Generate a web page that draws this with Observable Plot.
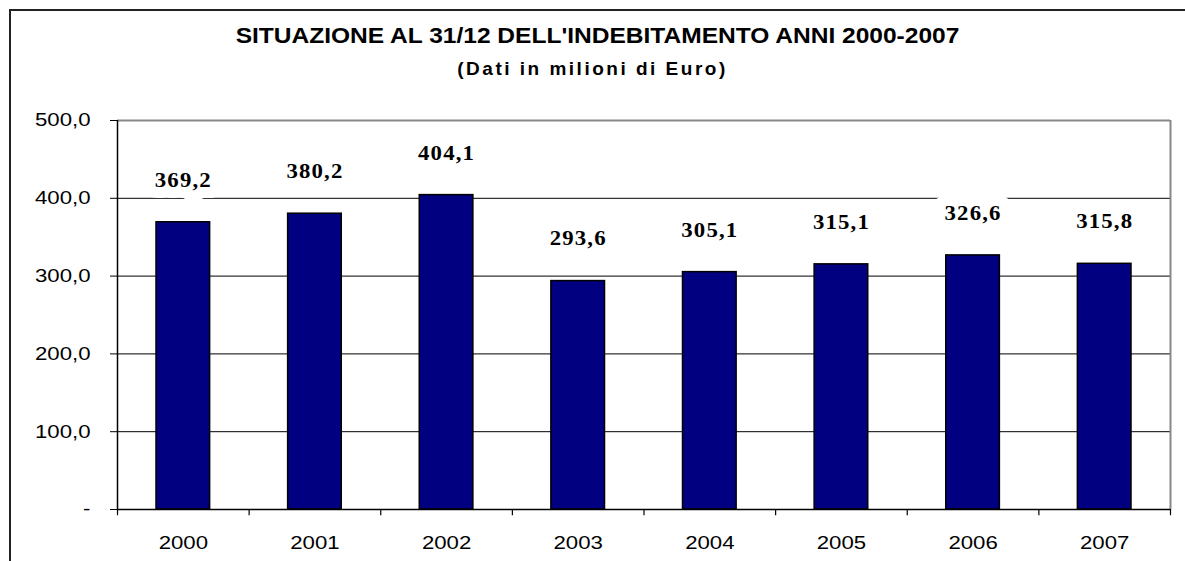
<!DOCTYPE html>
<html><head><meta charset="utf-8">
<script src="https://cdn.jsdelivr.net/npm/d3@7"></script>
<script src="https://cdn.jsdelivr.net/npm/@observablehq/plot@0.6"></script>
<style>
html,body{margin:0;padding:0;background:#fff;}
#wrap{position:relative;width:1185px;height:561px;overflow:hidden;font-family:"Liberation Sans",Arial,sans-serif;color:#000;}
#frame{position:absolute;left:9px;top:9px;width:1300px;height:700px;border-top:2px solid #222;border-left:2px solid #222;}
#title{position:absolute;left:5px;top:25px;width:1185px;text-align:center;font-weight:bold;font-size:22px;line-height:1;white-space:nowrap;transform:scaleX(1.115);transform-origin:592.5px 0;}
#sub{position:absolute;left:0;top:59px;width:1185px;text-align:center;font-weight:bold;font-size:19px;line-height:1;letter-spacing:2.5px;white-space:nowrap;}
#chart{position:absolute;left:0;top:100px;}
g[aria-label="text"] text{letter-spacing:1px;}
</style>
</head><body>
<div id="wrap">
  <div id="frame"></div>
  <div id="title">SITUAZIONE AL 31/12 DELL'INDEBITAMENTO ANNI 2000-2007</div>
  <div id="sub">(Dati in milioni di Euro)</div>
  <div id="chart"></div>
</div>
<script>
const years = ["2000","2001","2002","2003","2004","2005","2006","2007"];
const values = [369.2, 380.2, 404.1, 293.6, 305.1, 315.1, 326.6, 315.8];
const yTicks = [0, 100, 200, 300, 400, 500];
const yTickLabels = ["-", "100,0", "200,0", "300,0", "400,0", "500,0"];

const W = 1185, H = 461, mL = 117, mR = 15, mT = 20, mB = 52;
const bw = (W - mL - mR) / years.length;
const data = years.map((year, i) => ({year, value: values[i]}));
const fmt = v => v.toFixed(1).replace(".", ",");
const last = years[years.length - 1];

const chart = Plot.plot({
  width: W, height: H,
  marginTop: mT, marginRight: mR, marginBottom: mB, marginLeft: mL,
  style: {fontFamily: '"Liberation Sans", Arial, sans-serif', fontSize: "18.5px", color: "#000", background: "transparent", overflow: "visible"},
  x: {domain: years, padding: 0, round: false},
  y: {domain: [0, 500]},
  marks: [
    Plot.ruleY(yTicks.filter(d => d > 0 && d < 500), {stroke: "#000", strokeWidth: 1}),
    Plot.ruleY([500], {stroke: "#888", strokeWidth: 2}),
    Plot.ruleX([last], {dx: bw / 2, stroke: "#888", strokeWidth: 2}),
    Plot.barY(data, {x: "year", y: "value", fill: "#000080", stroke: "#000", strokeWidth: 1.5, insetLeft: 39, insetRight: 39}),
    Plot.ruleY([0], {stroke: "#000", strokeWidth: 1.5}),
    Plot.ruleX([years[0]], {dx: -bw / 2, stroke: "#000", strokeWidth: 1.5}),
    Plot.ruleX(years, {x: d => d, dx: -bw / 2, y1: 0, y2: -8, stroke: "#000", strokeWidth: 1.2}),
    Plot.ruleX([last], {x: d => d, dx: bw / 2, y1: 0, y2: -8, stroke: "#000", strokeWidth: 1.2}),
    Plot.axisY({ticks: yTicks, tickFormat: d => yTickLabels[yTicks.indexOf(d)], tickSize: 7, tickPadding: 20, label: null}),
    Plot.axisX({tickSize: 0, tickPadding: 26, label: null}),
    Plot.text(data, {
      x: "year", y: "value", text: d => fmt(d.value), dy: -42,
      fontFamily: '"Liberation Serif", "Times New Roman", serif', fontWeight: "bold", fontSize: 20,
      fill: "#000", stroke: "white", strokeWidth: 22, strokeLinejoin: "round"
    })
  ]
});

function stretch(sel, sx) {
  chart.querySelectorAll(sel).forEach(t => {
    const tr = t.getAttribute("transform") || "";
    t.setAttribute("transform", `${tr} scale(${sx},1)`);
  });
}
stretch('g[aria-label="y-axis tick label"] text', 1.2);
stretch('g[aria-label="x-axis tick label"] text', 1.2);
stretch('g[aria-label="text"] text', 1.14);

document.getElementById("chart").appendChild(chart);
</script>
</body></html>
